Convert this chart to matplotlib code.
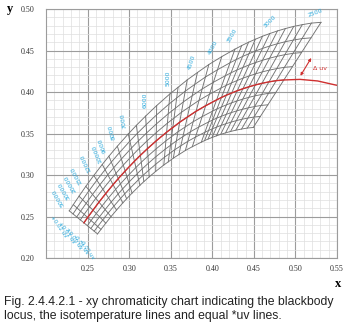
import numpy as np
import matplotlib.pyplot as plt
from matplotlib.ticker import MultipleLocator, FormatStrFormatter

# Planckian (blackbody) locus, CIE 1931 xy, ordered by colour temperature
locus_cct = [1800, 2000, 2200, 2400, 2500, 2600, 2700, 2800, 2900, 3000, 3100, 3200, 3300, 3400, 3500,
             3750, 4000, 4250, 4500, 4750, 5000, 5500, 6000, 6500, 7000, 8000, 9000, 10000,
             12000, 15000, 20000, 30000, 50000]
locus_x = [0.5492, 0.5267, 0.5056, 0.4861, 0.4770, 0.4682, 0.4598, 0.4518, 0.4442, 0.4368, 0.4300,
           0.4233, 0.4170, 0.4110, 0.4052, 0.3921, 0.3805, 0.3700, 0.3608, 0.3525, 0.3451, 0.3325,
           0.3221, 0.3135, 0.3064, 0.2952, 0.2869, 0.2807, 0.2718, 0.2637, 0.2565, 0.2501, 0.2456]
locus_y = [0.4082, 0.4133, 0.4152, 0.4145, 0.4137, 0.4122, 0.4105, 0.4085, 0.4063, 0.4039, 0.4015,
           0.3988, 0.3962, 0.3934, 0.3905, 0.3835, 0.3768, 0.3698, 0.3636, 0.3572, 0.3516, 0.3411,
           0.3318, 0.3237, 0.3166, 0.3048, 0.2956, 0.2884, 0.2776, 0.2673, 0.2576, 0.2488, 0.2424]

# isotemperature lines and their labels
iso_cct = [2400, 2500, 2600, 2700, 2800, 2900, 3000, 3100, 3200, 3300, 3400, 3500,
           3750, 4000, 4250, 4500, 4750, 5000, 5500, 6000, 6500, 7000, 8000, 9000,
           10000, 12000, 15000, 20000, 30000, 50000]
iso_text = {2500: '2500', 3000: '3000', 3500: '3500', 4000: '4000', 4500: '4500',
            5000: '5000', 6000: '6000', 7000: '7000', 8000: '8000', 9000: '9000',
            10000: '10000', 12000: '12000', 15000: '15000', 20000: '20000',
            30000: '30000', 50000: '50000'}

# equal *uv lines
duv_steps = [-0.02, -0.015, -0.01, -0.005, 0.0, 0.005, 0.01, 0.015, 0.02]
duv_marked = [0.02, 0.01, 0.0, -0.01, -0.02]
duv_text = ['+0.02 uv', '+0.01 uv', '\u00b10.00 uv', '-0.01 uv', '-0.02 uv']

x_ticks = [0.25, 0.30, 0.35, 0.40, 0.45, 0.50, 0.55]
y_ticks = [0.20, 0.25, 0.30, 0.35, 0.40, 0.45, 0.50]

caption = ('Fig. 2.4.4.2.1 - xy chromaticity chart indicating the blackbody\n'
           'locus, the isotemperature lines and equal *uv lines.')

# label placement: offset from the +0.02 end of each line (points) and rotation
label_style = {2500: ((3, 7), 20), 3000: ((0, 8.6), 45), 3500: ((-2, 10), 60),
               4000: ((3, 12), 62), 4500: ((3, 13), 72), 5000: ((-1, 11.5), 90),
               6000: ((0, 11.5), 90), 7000: ((-3, 9.4), 100), 8000: ((-3.6, 10.5), 105),
               9000: ((-4.3, 8), 110), 10000: ((-3.6, 8), 112), 12000: ((-5.8, 9), 115),
               15000: ((-7, 8), 118), 20000: ((-6.5, 9.4), 120), 30000: ((-6.5, 10), 120),
               50000: ((-8, 9.4), 120)}

GRID_MAJ = '#9c9c9c'
GRID_MIN = '#dedede'
MESH = '#727272'
RED = '#cf3030'
CYAN = '#2aa9dc'
SERIF = ['Liberation Serif', 'DejaVu Serif']


def xy_to_uv(x, y):
    d = -2 * x + 12 * y + 3
    return 4 * x / d, 6 * y / d


def uv_to_xy(u, v):
    d = 2 * u - 8 * v + 4
    return 3 * u / d, 2 * v / d


cct = np.array(locus_cct)
lx = np.array(locus_x)
ly = np.array(locus_y)
u, v = xy_to_uv(lx, ly)
# isotemperature direction = normal to the locus in the 1960 uv diagram
tu, tv = np.gradient(u), np.gradient(v)
tn = np.hypot(tu, tv)
nu, nv = tv / tn, -tu / tn

sel = np.isin(cct, iso_cct)
duv = np.array(duv_steps)
U = u[sel][None, :] + duv[:, None] * nu[sel][None, :]
V = v[sel][None, :] + duv[:, None] * nv[sel][None, :]
X, Y = uv_to_xy(U, V)
sel_cct = list(cct[sel])

fig = plt.figure(figsize=(3.48, 3.26), dpi=100)
ax = fig.add_axes([46 / 348, 1 - 258 / 326, 291 / 348, 249 / 326])

ax.set_xlim(0.20, 0.55)
ax.set_ylim(0.20, 0.50)
ax.xaxis.set_minor_locator(MultipleLocator(0.01))
ax.yaxis.set_minor_locator(MultipleLocator(0.01))
ax.set_xticks(x_ticks)
ax.set_yticks(y_ticks)
ax.xaxis.set_major_formatter(FormatStrFormatter('%.2f'))
ax.yaxis.set_major_formatter(FormatStrFormatter('%.2f'))
ax.grid(which='minor', color=GRID_MIN, lw=0.5)
ax.grid(which='major', color=GRID_MAJ, lw=0.8)
ax.set_axisbelow(True)
ax.tick_params(which='both', length=0)
ax.tick_params(axis='x', pad=5)
ax.tick_params(axis='y', pad=8)
for lab in ax.get_xticklabels() + ax.get_yticklabels():
    lab.set_fontfamily(SERIF)
    lab.set_fontsize(5.8)
    lab.set_color('#333333')
for sp in ax.spines.values():
    sp.set_color(GRID_MAJ)
    sp.set_linewidth(0.8)

# mesh: equal *uv curves and isotemperature lines
for i in range(len(duv)):
    ax.plot(X[i], Y[i], color=MESH, lw=0.65)
for j in range(X.shape[1]):
    ax.plot(X[:, j], Y[:, j], color=MESH, lw=0.65)

# blackbody locus
ax.plot(lx, ly, color=RED, lw=1.0, zorder=4)

# temperature labels at the upper ends of the isotemperature lines
for t, txt in iso_text.items():
    off, rot = label_style[t]
    j = sel_cct.index(t)
    ax.annotate(txt, (X[-1, j], Y[-1, j]), xytext=off, textcoords='offset points',
                ha='center', va='center', rotation=rot, rotation_mode='anchor',
                fontsize=4.4, color=CYAN)

# *uv labels at the 50000 K end
j = sel_cct.index(50000)
for val, txt in zip(duv_marked, duv_text):
    i = duv_steps.index(val)
    ax.annotate(txt, (X[i, j], Y[i, j]), xytext=(-7.5, -11.5), textcoords='offset points',
                ha='center', va='center', rotation=-55, rotation_mode='anchor',
                fontsize=4, color=CYAN)

# delta uv marker
ax.annotate('', xy=(0.519, 0.441), xytext=(0.506, 0.4195),
            arrowprops=dict(arrowstyle='<|-|>', color=RED, lw=0.8, mutation_scale=4,
                            shrinkA=0, shrinkB=0))
ax.text(0.521, 0.428, '\u0394 uv', color=RED, fontsize=4.5, ha='left', va='center')

fig.text(10 / 348, 1 - 9 / 326, 'y', family=SERIF, fontweight='bold', fontsize=9,
         ha='center', va='center')
fig.text(338 / 348, 1 - 284 / 326, 'x', family=SERIF, fontweight='bold', fontsize=9,
         ha='center', va='center')

cap = fig.text(4 / 348, 1 - 296 / 326, caption,
               family=['Liberation Sans', 'DejaVu Sans'], fontsize=9,
               ha='left', va='top', linespacing=1.2, color='#222222')
# shrink the caption until its longest line fits the figure width
renderer = fig.canvas.get_renderer()
width = cap.get_window_extent(renderer).width
cap.set_fontsize(9 * min(1.0, 330 / width))

fig.savefig('out.png', dpi=100)
